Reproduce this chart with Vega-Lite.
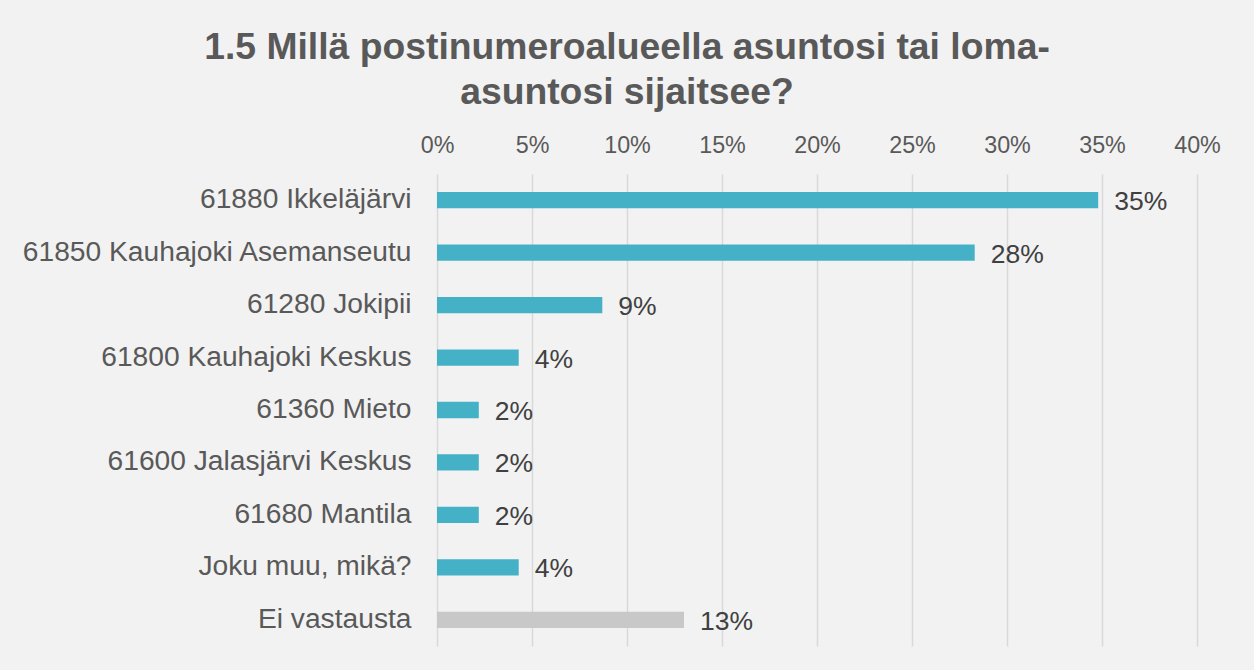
{
  "$schema": "https://vega.github.io/schema/vega-lite/v6.json",
  "width": 760,
  "height": 472,
  "autosize": {"type": "none"},
  "padding": {"left": 437, "top": 174, "right": 57, "bottom": 24},
  "background": "#f2f2f2",
  "title": {
    "text": ["1.5 Millä postinumeroalueella asuntosi tai loma-", "asuntosi sijaitsee?"],
    "font": "Liberation Sans",
    "fontSize": 37.3,
    "fontWeight": "bold",
    "color": "#595959",
    "lineHeight": 45,
    "anchor": "middle",
    "frame": "group",
    "dx": -190,
    "offset": 21
  },
  "data": {
    "values": [
      {"alue": "61880 Ikkeläjärvi", "osuus": 0.348, "ryhma": "vastaus"},
      {"alue": "61850 Kauhajoki Asemanseutu", "osuus": 0.283, "ryhma": "vastaus"},
      {"alue": "61280 Jokipii", "osuus": 0.087, "ryhma": "vastaus"},
      {"alue": "61800 Kauhajoki Keskus", "osuus": 0.043, "ryhma": "vastaus"},
      {"alue": "61360 Mieto", "osuus": 0.022, "ryhma": "vastaus"},
      {"alue": "61600 Jalasjärvi Keskus", "osuus": 0.022, "ryhma": "vastaus"},
      {"alue": "61680 Mantila", "osuus": 0.022, "ryhma": "vastaus"},
      {"alue": "Joku muu, mikä?", "osuus": 0.043, "ryhma": "vastaus"},
      {"alue": "Ei vastausta", "osuus": 0.13, "ryhma": "ei"}
    ]
  },
  "encoding": {
    "y": {
      "field": "alue",
      "type": "nominal",
      "sort": null,
      "title": null,
      "scale": {"paddingInner": 0.69, "paddingOuter": 0.345},
      "axis": {
        "domain": false,
        "ticks": false,
        "labelPadding": 26,
        "labelFont": "Liberation Sans",
        "labelFontSize": 28.2,
        "labelColor": "#595959",
        "labelLimit": 600
      }
    },
    "x": {
      "field": "osuus",
      "type": "quantitative",
      "title": null,
      "scale": {"domain": [0, 0.4], "nice": false},
      "axis": {
        "orient": "top",
        "values": [0, 0.05, 0.1, 0.15, 0.2, 0.25, 0.3, 0.35, 0.4],
        "format": ".0%",
        "domain": false,
        "ticks": false,
        "grid": true,
        "gridColor": "#d9d9d9",
        "gridWidth": 1.5,
        "labelFlush": false,
        "labelPadding": 17,
        "labelFont": "Liberation Sans",
        "labelFontSize": 23.3,
        "labelColor": "#595959"
      }
    }
  },
  "layer": [
    {
      "mark": {"type": "bar"},
      "encoding": {
        "color": {
          "field": "ryhma",
          "type": "nominal",
          "scale": {"domain": ["vastaus", "ei"], "range": ["#44b1c7", "#c8c8c8"]},
          "legend": null
        }
      }
    },
    {
      "mark": {
        "type": "text",
        "align": "left",
        "baseline": "middle",
        "dx": 16,
        "dy": 2,
        "font": "Liberation Sans",
        "fontSize": 26.5,
        "color": "#404040"
      },
      "encoding": {
        "text": {"field": "osuus", "type": "quantitative", "format": ".0%"}
      }
    }
  ],
  "config": {
    "view": {"stroke": null}
  }
}
